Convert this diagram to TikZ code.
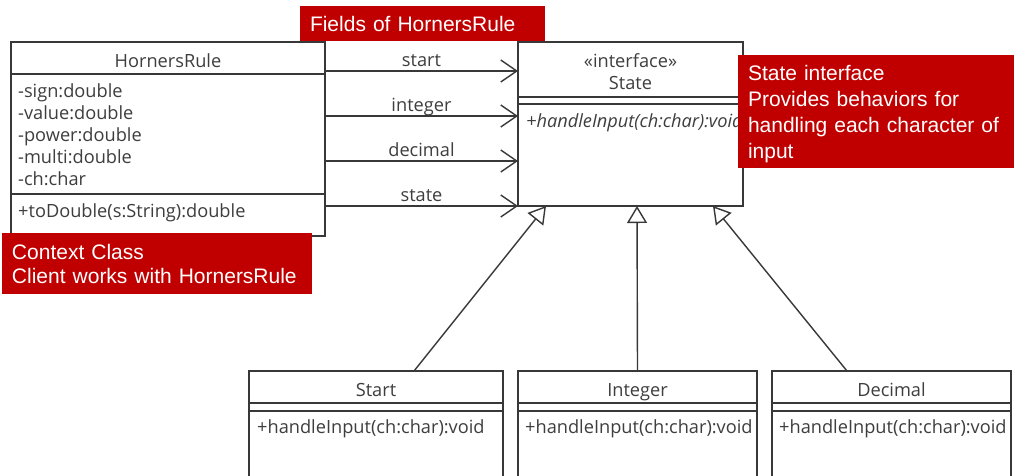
\documentclass[tikz,border=0pt]{standalone}
\usepackage{fontspec}
\setmainfont{Liberation Sans}
\newfontfamily\umlfont{Open Sans}
\usetikzlibrary{arrows.meta}
\definecolor{notered}{HTML}{C00000}
\definecolor{umlline}{HTML}{383838}
\definecolor{umltext}{HTML}{3E3E3E}
\tikzset{
  umlbox/.style={draw=umlline, line width=1.4pt, fill=white, outer sep=0pt, inner sep=0pt, anchor=north west},
  umltxt/.style={font=\umlfont\fontsize{18.2}{22}\selectfont, text=umltext, inner sep=0pt},
  sep/.style={draw=umlline, line width=1.4pt},
  assoc/.style={draw=umlline, line width=1.4pt, -{Straight Barb[length=16pt,width=22pt]}},
  inherit/.style={draw=umlline, line width=1.4pt, -{Triangle[open,length=17pt,width=20pt,fill=white]}},
  edgelbl/.style={umltxt, anchor=base, yshift=5pt},
  note/.style={fill=notered, text=white, align=left, anchor=north west,
    inner xsep=10pt, inner ysep=0pt, outer sep=0pt},
}
\begin{document}
\begin{tikzpicture}[x=1pt,y=-1pt]
\useasboundingbox (0,0) rectangle (1014,475);
\fill[white] (0,0) rectangle (1014,475);

% context class
\node[umlbox, minimum width=314pt, minimum height=194pt] (hr) at (11,42) {};
\draw[sep] ([yshift=-32pt]hr.north west) -- ([yshift=-32pt]hr.north east);
\draw[sep] ([yshift=-152pt]hr.north west) -- ([yshift=-152pt]hr.north east);
\node[umltxt, anchor=base] (hrname) at (168,67) {HornersRule};
\node[umltxt, anchor=base west] (hrf1) at (18,97) {-sign:double};
\node[umltxt, anchor=base west] (hrf2) at (18,119) {-value:double};
\node[umltxt, anchor=base west] (hrf3) at (18,141) {-power:double};
\node[umltxt, anchor=base west] (hrf4) at (18,163) {-multi:double};
\node[umltxt, anchor=base west] (hrf5) at (18,185) {-ch:char};
\node[umltxt, anchor=base west] (hrm1) at (18,217) {+toDouble(s:String):double};

% state interface
\node[umlbox, minimum width=225pt, minimum height=164pt] (st) at (518,42) {};
\draw[sep] ([yshift=-55pt]st.north west) -- ([yshift=-55pt]st.north east);
\draw[sep] ([yshift=-62pt]st.north west) -- ([yshift=-62pt]st.north east);
\node[umltxt, anchor=base] (ststereo) at (630.5,67) {«interface»};
\node[umltxt, anchor=base] (stname) at (630.5,89) {State};
\node[umltxt, anchor=base west] (stm1) at (526,127) {\itshape +handleInput(ch:char):void};

% concrete states
\node[umlbox, minimum width=254pt, minimum height=109pt] (sstart) at (249,371) {};
\node[umlbox, minimum width=239pt, minimum height=109pt] (sint) at (518,371) {};
\node[umlbox, minimum width=239pt, minimum height=109pt] (sdec) at (772,371) {};
\foreach \b in {sstart,sint,sdec}{
  \draw[sep] ([yshift=-32pt]\b.north west) -- ([yshift=-32pt]\b.north east);
  \draw[sep] ([yshift=-40pt]\b.north west) -- ([yshift=-40pt]\b.north east);
}
\node[umltxt, anchor=base] (sstartname) at (376,396) {Start};
\node[umltxt, anchor=base] (sintname) at (637.5,396) {Integer};
\node[umltxt, anchor=base] (sdecname) at (891.5,396) {Decimal};
\node[umltxt, anchor=base west] (sstartm) at (257,433) {+handleInput(ch:char):void};
\node[umltxt, anchor=base west] (sintm) at (525,433) {+handleInput(ch:char):void};
\node[umltxt, anchor=base west] (sdecm) at (779,433) {+handleInput(ch:char):void};

% associations
\draw[assoc] ([yshift=-29pt]hr.north east) -- ([yshift=-29pt]st.north west)
  node[edgelbl, pos=0.5] {start};
\draw[assoc] ([yshift=-74pt]hr.north east) -- ([yshift=-74pt]st.north west)
  node[edgelbl, pos=0.5] {integer};
\draw[assoc] ([yshift=-119pt]hr.north east) -- ([yshift=-119pt]st.north west)
  node[edgelbl, pos=0.5] {decimal};
\draw[assoc] ([yshift=-164pt]hr.north east) -- (st.south west)
  node[edgelbl, pos=0.5] {state};

% realizations
\draw[inherit] ([xshift=38pt]sstart.north) -- ([xshift=28pt]st.south west);
\draw[inherit] (sint.north) -- ([xshift=6.5pt]st.south);
\draw[inherit] ([xshift=-44.5pt]sdec.north) -- ([xshift=-30pt]st.south east);

% annotations
\node[note, font=\fontsize{21}{24}\selectfont, minimum width=245pt, minimum height=35pt,
  text width=225pt] (nfields) at (300,6) {Fields of HornersRule};
\node[note, font=\fontsize{21}{24}\selectfont, minimum width=310pt, minimum height=61pt,
  text width=290pt] (ncontext) at (2,233) {Context Class\\Client works with HornersRule};
\node[note, font=\fontsize{21}{26}\selectfont, minimum width=290pt, minimum height=113pt,
  text width=270pt] (nstate) at (738,55)
  {\rule{0pt}{21pt}State interface\\Provides behaviors for\\handling each character of\\input};
\end{tikzpicture}
\end{document}
